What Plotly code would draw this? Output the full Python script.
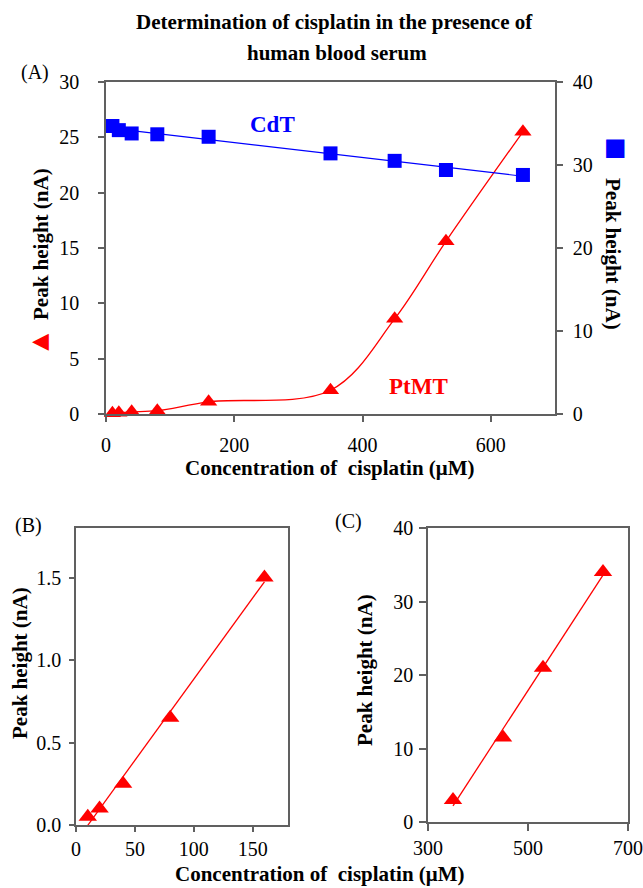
import numpy as np
import plotly.graph_objects as go

W, H = 643, 888

# ---------------- data ----------------
conc_all = [10, 20, 40, 80, 160, 350, 450, 530, 650]
ptmt_a = [0.06, 0.12, 0.2, 0.3, 1.1, 2.15, 8.6, 15.6, 25.5]       # left axis, panel A
cdt_a = [34.7, 34.2, 33.8, 33.7, 33.4, 31.4, 30.5, 29.4, 28.8]    # right axis, panel A

conc_b = [10, 20, 40, 80, 160]
ptmt_b = [0.05, 0.10, 0.25, 0.65, 1.50]

conc_c = [350, 450, 530, 650]
ptmt_c = [3.0, 11.5, 21.0, 34.0]

title_lines = ["Determination of cisplatin in the presence of", "human blood serum"]
x_title = "Concentration of  cisplatin (\u03bcM)"
y_title = "Peak height (nA)"

RED = "#FF0000"
BLUE = "#0000FF"
AX = "#606060"
FONT = "Liberation Serif"


def px(x):
    return x / W


def py(y):
    return 1 - y / H


def fit(xs, ys):
    k, b = np.polyfit(xs, ys, 1)
    xx = np.array([min(xs), max(xs)], dtype=float)
    return xx, k * xx + b


fig = go.Figure()

# Panel A
fig.add_trace(go.Scatter(x=conc_all, y=ptmt_a, mode="lines+markers", xaxis="x", yaxis="y",
                         line=dict(color=RED, width=1.3, shape="spline", smoothing=1.0),
                         marker=dict(symbol="triangle-up", size=15, color=RED),
                         cliponaxis=False, showlegend=False))
fx, fy = fit(conc_all, cdt_a)
fig.add_trace(go.Scatter(x=fx, y=fy, mode="lines", xaxis="x", yaxis="y2",
                         line=dict(color=BLUE, width=1.2), showlegend=False))
fig.add_trace(go.Scatter(x=conc_all, y=cdt_a, mode="markers", xaxis="x", yaxis="y2",
                         marker=dict(symbol="square", size=14, color=BLUE),
                         cliponaxis=False, showlegend=False))

# Panel B
fx, fy = fit(conc_b, ptmt_b)
fig.add_trace(go.Scatter(x=fx, y=fy, mode="lines", xaxis="x2", yaxis="y3",
                         line=dict(color=RED, width=1.3), showlegend=False))
fig.add_trace(go.Scatter(x=conc_b, y=ptmt_b, mode="markers", xaxis="x2", yaxis="y3",
                         marker=dict(symbol="triangle-up", size=16, color=RED),
                         cliponaxis=False, showlegend=False))

# Panel C
fx, fy = fit(conc_c, ptmt_c)
fig.add_trace(go.Scatter(x=fx, y=fy, mode="lines", xaxis="x3", yaxis="y4",
                         line=dict(color=RED, width=1.3), showlegend=False))
fig.add_trace(go.Scatter(x=conc_c, y=ptmt_c, mode="markers", xaxis="x3", yaxis="y4",
                         marker=dict(symbol="triangle-up", size=16, color=RED),
                         cliponaxis=False, showlegend=False))

tickfont = dict(family=FONT, size=20, color="black")
common = dict(showgrid=False, zeroline=False, showline=True, linecolor=AX, linewidth=1.5,
              ticks="outside", tickcolor=AX, tickwidth=1.5, tickfont=tickfont,
              automargin=False)

fig.update_layout(
    width=W, height=H,
    margin=dict(l=0, r=0, t=0, b=0, pad=0, autoexpand=False),
    plot_bgcolor="white", paper_bgcolor="white",
    xaxis=dict(domain=[px(106), px(555)], range=[0, 700], dtick=200, anchor="y",
               mirror=True, ticklen=6, ticklabelstandoff=6, **common),
    yaxis=dict(domain=[py(414), py(82)], range=[0, 30], dtick=5, anchor="x",
               ticklen=6, ticklabelstandoff=15, **common),
    yaxis2=dict(range=[0, 40], dtick=10, overlaying="y", side="right", anchor="x",
                ticklen=6, ticklabelstandoff=6, **common),
    xaxis2=dict(domain=[px(76), px(288)], range=[0, 180], dtick=50, anchor="y3",
                mirror=True, ticklen=5, ticklabelstandoff=0, **common),
    yaxis3=dict(domain=[py(825), py(528)], range=[0, 1.8], dtick=0.5, tickformat=".1f",
                anchor="x2", mirror=True, ticklen=5, ticklabelstandoff=4, **common),
    xaxis3=dict(domain=[px(428), px(628)], range=[300, 700], tick0=300, dtick=200, anchor="y4",
                mirror=True, ticklen=7, ticklabelstandoff=0, **common),
    yaxis4=dict(domain=[py(822), py(528)], range=[0, 40], dtick=10, anchor="x3",
                mirror=True, ticklen=7, ticklabelstandoff=2, **common),
)


def ann(text, x, y, size=21, color="black", angle=0, bold=True, family=FONT):
    fig.add_annotation(text=(f"<b>{text}</b>" if bold else text), x=px(x), y=py(y),
                       xref="paper", yref="paper", xanchor="center", yanchor="middle",
                       showarrow=False, textangle=angle,
                       font=dict(family=family, size=size, color=color))


ann(title_lines[0], 334, 22)
ann(title_lines[1], 337, 53)
ann("(A)", 35, 72, size=20, bold=False)
ann("(B)", 28, 525, size=20, bold=False)
ann("(C)", 348, 521, size=20, bold=False)

ann(x_title, 330, 468)
ann(x_title, 320, 874)

ann(y_title, 41, 244, angle=-90)
ann("\u25c0", 40, 340, size=22, color=RED, bold=False, family="DejaVu Sans")
ann(y_title, 613, 254, angle=90)
ann("\u25a0", 615, 147, size=24, color=BLUE, bold=False, family="DejaVu Sans")

ann(y_title, 20, 663, angle=-90)
ann(y_title, 365, 670, angle=-90)

ann("CdT", 272, 124, size=23, color=BLUE)
ann("PtMT", 418, 386, size=23, color=RED)

fig.write_html("out.html", config={"displayModeBar": False},
               post_script="document.body.style.margin='0';document.body.style.overflow='hidden';")
